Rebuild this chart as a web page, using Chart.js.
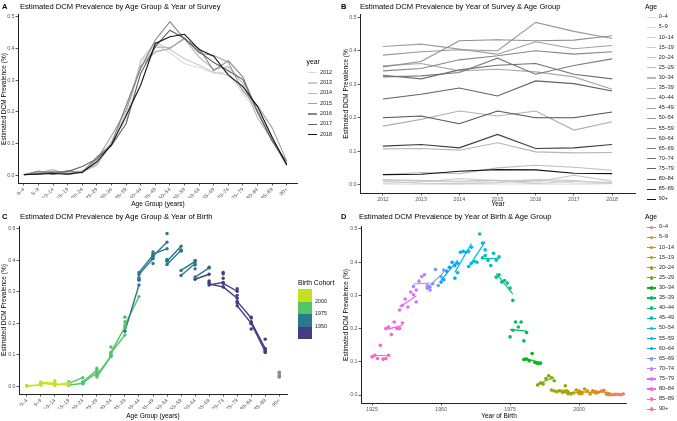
<!DOCTYPE html>
<html>
<head>
<meta charset="utf-8">
<script src="https://cdn.jsdelivr.net/npm/chart.js@4.4.1/dist/chart.umd.min.js"></script>
<style>
body { margin: 0; background: #fff; }
#wrap { position: relative; width: 677px; height: 421px; overflow: hidden; background: #fff;
        font-family: "Liberation Sans", Arial, sans-serif; color: #000; }
canvas { position: absolute; left: 0; top: 0; }
.t { position: absolute; white-space: nowrap; line-height: 1; }
.sw { position: absolute; }
</style>
</head>
<body>
<div id="wrap"></div>
<script>
// age groups and survey years
const ageGroups = ['0–4', '5–9', '10–14', '15–19', '20–24', '25–29', '30–34', '35–39', '40–44', '45–49',
                   '50–54', '55–59', '60–64', '65–69', '70–74', '75–79', '80–84', '85–89', '90+'];
const ageLower = [0, 5, 10, 15, 20, 25, 30, 35, 40, 45, 50, 55, 60, 65, 70, 75, 80, 85, 90];
const surveyYears = [2012, 2013, 2014, 2015, 2016, 2017, 2018];

// estimated prevalence (%) per survey year, one value per age group
const p2012 = [0.002, 0.013, 0.004, 0.010, 0.015, 0.030, 0.107, 0.175, 0.355, 0.413, 0.387, 0.352, 0.340, 0.322, 0.327, 0.256, 0.200, 0.115, 0.030];
const p2013 = [0.001, 0.010, 0.008, 0.004, 0.012, 0.036, 0.108, 0.195, 0.362, 0.420, 0.397, 0.368, 0.347, 0.325, 0.316, 0.270, 0.205, 0.120, 0.031];
const p2014 = [0.001, 0.008, 0.018, 0.003, 0.010, 0.033, 0.103, 0.220, 0.340, 0.405, 0.403, 0.430, 0.373, 0.335, 0.343, 0.289, 0.182, 0.110, 0.040];
const p2015 = [0.002, 0.012, 0.012, 0.006, 0.013, 0.050, 0.125, 0.205, 0.345, 0.390, 0.400, 0.433, 0.385, 0.378, 0.357, 0.265, 0.220, 0.150, 0.045];
const p2016 = [0.002, 0.014, 0.003, 0.015, 0.008, 0.058, 0.098, 0.220, 0.337, 0.427, 0.485, 0.430, 0.400, 0.330, 0.362, 0.310, 0.200, 0.108, 0.044];
const p2017 = [0.001, 0.005, 0.010, 0.012, 0.028, 0.052, 0.095, 0.163, 0.322, 0.406, 0.458, 0.432, 0.390, 0.356, 0.330, 0.302, 0.200, 0.110, 0.034];
const p2018 = [0.003, 0.004, 0.006, 0.004, 0.010, 0.043, 0.096, 0.188, 0.285, 0.416, 0.437, 0.445, 0.397, 0.376, 0.316, 0.280, 0.217, 0.120, 0.033];
const byYear = [p2012, p2013, p2014, p2015, p2016, p2017, p2018];

// tick labels
const yTicks = [0, 0.1, 0.2, 0.3, 0.4, 0.5];
const birthTicks = [1925, 1950, 1975, 2000];
const cohortBreaks = [1950, 1975, 2000];

const FONT = '"Liberation Sans", Arial, sans-serif';
const wrap = document.getElementById('wrap');
const W = 677, H = 421, Y_W = 18, X_H = 15;

function addText(s, x, y, size, opt = {}) {
    const d = document.createElement('div');
    d.className = 't';
    d.textContent = s;
    d.style.fontSize = size + 'px';
    d.style.left = x + 'px';
    d.style.top = y + 'px';
    if (opt.bold) d.style.fontWeight = 'bold';
    if (opt.color) d.style.color = opt.color;
    if (opt.rotate) d.style.transform = 'translate(-50%,-50%) rotate(-90deg)';
    else if (opt.center) d.style.transform = 'translate(-50%,-50%)';
    else d.style.transform = 'translate(0,-50%)';
    wrap.appendChild(d);
}

function addBox(x, y, w, h, color, round) {
    const d = document.createElement('div');
    d.className = 'sw';
    d.style.left = x + 'px';
    d.style.top = y + 'px';
    d.style.width = w + 'px';
    d.style.height = h + 'px';
    d.style.background = color;
    if (round) d.style.borderRadius = '50%';
    wrap.appendChild(d);
}

// grey ramp like scale_colour_grey (t: 0 light, 1 dark)
function greyAt(t) {
    const s = 0.86, e = 0.07, g = 2.2;
    const v = Math.pow(Math.pow(s, g) + (Math.pow(e, g) - Math.pow(s, g)) * t, 1 / g);
    const c = Math.round(v * 255);
    return `rgb(${c},${c},${c})`;
}

// ggplot default hue palette
function hcl(h, c, l) {
    const rad = h * Math.PI / 180;
    const U = c * Math.cos(rad), V = c * Math.sin(rad);
    const Xn = 0.95047, Yn = 1.0, Zn = 1.08883;
    const un = 4 * Xn / (Xn + 15 * Yn + 3 * Zn), vn = 9 * Yn / (Xn + 15 * Yn + 3 * Zn);
    const Y = l > 8 ? Yn * Math.pow((l + 16) / 116, 3) : Yn * l / 903.3;
    const up = U / (13 * l) + un, vp = V / (13 * l) + vn;
    const X = Y * 9 * up / (4 * vp);
    const Z = Y * (12 - 3 * up - 20 * vp) / (4 * vp);
    const lin = [3.2404542 * X - 1.5371385 * Y - 0.4985314 * Z,
                 -0.9692660 * X + 1.8760108 * Y + 0.0415560 * Z,
                 0.0556434 * X - 0.2040259 * Y + 1.0572252 * Z];
    const rgb = lin.map(v => {
        v = Math.min(1, Math.max(0, v));
        const s = v <= 0.0031308 ? 12.92 * v : 1.055 * Math.pow(v, 1 / 2.4) - 0.055;
        return Math.round(s * 255);
    });
    return `rgb(${rgb.join(',')})`;
}
const hueColors = ageGroups.map((_, i) => hcl(15 + 360 * i / ageGroups.length, 100, 65));
const yearGreys = surveyYears.map((_, j) => greyAt(j / (surveyYears.length - 1)));
const ageGreys = ageGroups.map((_, i) => greyAt(i / (ageGroups.length - 1)));

const cohortColors = ['#433d84', '#2a788e', '#52c569', '#c6e021'];
function cohortColor(b) {
    if (b === null) return '#8c8c8c';
    if (b <= cohortBreaks[0]) return cohortColors[0];
    if (b <= cohortBreaks[1]) return cohortColors[1];
    if (b < cohortBreaks[2]) return cohortColors[2];
    return cohortColors[3];
}
const birthYear = (ageIdx, yearIdx) => ageIdx === ageGroups.length - 1 ? null : surveyYears[yearIdx] - (ageLower[ageIdx] + 2);

function axis(extra) {
    return Object.assign({
        type: 'linear',
        grid: { display: true, drawOnChartArea: false, drawTicks: true, tickLength: 2.5, color: '#333', lineWidth: 0.8 },
        border: { display: true, color: '#222', width: 1 },
    }, extra);
}
const tickFont = { size: 5.2, family: FONT };
const tickColor = '#555';

function makeChart(area, xScale, datasets) {
    const cv = document.createElement('canvas');
    cv.width = W; cv.height = H;
    wrap.appendChild(cv);
    return new Chart(cv, {
        type: 'scatter',
        data: { datasets },
        options: {
            responsive: false, animation: false, events: [],
            layout: { padding: { left: area.l - Y_W, top: area.t, right: W - area.r, bottom: H - area.b - X_H } },
            plugins: { legend: { display: false }, tooltip: { enabled: false } },
            scales: {
                x: axis(Object.assign({ afterFit: s => { s.height = X_H; } }, xScale)),
                y: axis({
                    min: area.ymin, max: area.ymax,
                    afterFit: s => { s.width = Y_W; },
                    afterBuildTicks: s => { s.ticks = yTicks.map(v => ({ value: v })); },
                    ticks: { color: tickColor, font: tickFont, padding: 1, callback: v => v.toFixed(1) }
                })
            }
        }
    });
}

const ageAxis = (min, max) => ({
    min, max,
    afterBuildTicks: s => { s.ticks = ageGroups.map((_, i) => ({ value: i })); },
    ticks: { color: tickColor, font: tickFont, padding: 1, autoSkip: false, minRotation: 45, maxRotation: 45,
             callback: v => ageGroups[v] }
});

// ---- A: by age group, one line per survey year
const dsA = surveyYears.map((yr, j) => ({
    data: ageGroups.map((_, i) => ({ x: i, y: byYear[j][i] })),
    showLine: true, borderColor: yearGreys[j], borderWidth: 1.1, pointRadius: 0, order: -j
}));
makeChart({ l: 18, r: 297, t: 14, b: 183, ymin: -0.024, ymax: 0.509 }, ageAxis(-0.4, 18.7), dsA);

// ---- B: by survey year, one line per age group
const dsB = ageGroups.map((_, i) => ({
    data: surveyYears.map((yr, j) => ({ x: yr, y: byYear[j][i] })),
    showLine: true, borderColor: ageGreys[i], borderWidth: 1.1, pointRadius: 0, order: -i
}));
makeChart({ l: 360, r: 635, t: 14, b: 193, ymin: -0.025, ymax: 0.51 }, {
    min: 2011.4, max: 2018.6,
    afterBuildTicks: s => { s.ticks = surveyYears.map(v => ({ value: v })); },
    ticks: { color: tickColor, font: tickFont, padding: 1, callback: v => String(v) }
}, dsB);

// ---- C: by age group, coloured by birth cohort
const dsC = [];
const ptsC = [], colC = [];
ageGroups.forEach((_, i) => surveyYears.forEach((yr, j) => {
    ptsC.push({ x: i, y: byYear[j][i] });
    colC.push(cohortColor(birthYear(i, j)));
}));
dsC.push({ data: ptsC, pointRadius: 1.7, pointBackgroundColor: colC, pointBorderColor: colC, pointBorderWidth: 0, order: -100 });
for (let i = 0; i < ageGroups.length - 2; i++) {
    for (let j = 0; j + 5 < surveyYears.length; j++) {
        const col = cohortColor(birthYear(i, j));
        dsC.push({
            data: [{ x: i, y: byYear[j][i] }, { x: i + 1, y: byYear[j + 5][i + 1] }],
            showLine: true, borderColor: col, borderWidth: 1.4, pointRadius: 0
        });
    }
}
makeChart({ l: 19, r: 287, t: 226, b: 394, ymin: -0.024, ymax: 0.509 }, ageAxis(-0.55, 18.55), dsC);

// ---- D: by year of birth, coloured by age group, with linear fit per group
const dsD = [];
for (let i = 0; i < ageGroups.length - 1; i++) {
    const pts = surveyYears.map((yr, j) => ({ x: birthYear(i, j), y: byYear[j][i] }));
    const n = pts.length;
    const mx = pts.reduce((a, p) => a + p.x, 0) / n, my = pts.reduce((a, p) => a + p.y, 0) / n;
    const sxy = pts.reduce((a, p) => a + (p.x - mx) * (p.y - my), 0);
    const sxx = pts.reduce((a, p) => a + (p.x - mx) * (p.x - mx), 0);
    const slope = sxy / sxx;
    const x0 = pts[0].x, x1 = pts[n - 1].x;
    dsD.push({ data: pts, pointRadius: 1.8, backgroundColor: hueColors[i], borderColor: hueColors[i], pointBorderWidth: 0, order: -50 - i });
    dsD.push({
        data: [{ x: x0, y: my + slope * (x0 - mx) }, { x: x1, y: my + slope * (x1 - mx) }],
        showLine: true, borderColor: hueColors[i], borderWidth: 1.2, pointRadius: 0, order: -i
    });
}
makeChart({ l: 361, r: 626, t: 226, b: 403, ymin: -0.024, ymax: 0.509 }, {
    min: 1921, max: 2017,
    afterBuildTicks: s => { s.ticks = birthTicks.map(v => ({ value: v })); },
    ticks: { color: tickColor, font: tickFont, padding: 1, callback: v => String(v) }
}, dsD);

// ---- titles and axis titles
const TS = 7.6, AS = 6.5;
addText('A', 2, 7, 7.5, { bold: true });
addText('Estimated DCM Prevalence by Age Group & Year of Survey', 20, 7, TS);
addText('B', 341, 7, 7.5, { bold: true });
addText('Estimated DCM Prevalence by Year of Survey & Age Group', 360, 7, TS);
addText('C', 2, 217, 7.5, { bold: true });
addText('Estimated DCM Prevalence by Age Group & Year of Birth', 20, 217, TS);
addText('D', 341, 217, 7.5, { bold: true });
addText('Estimated DCM Prevalence by Year of Birth & Age Group', 359, 217, TS);

addText('Age Group (years)', 158, 204, AS, { center: true });
addText('Year', 498, 204, AS, { center: true });
addText('Age Group (years)', 153, 415.5, AS, { center: true });
addText('Year of Birth', 499, 415.5, AS, { center: true });
addText('Estimated DCM Prevalence (%)', 4, 98.5, AS, { rotate: true });
addText('Estimated DCM Prevalence (%', 346, 94, AS, { rotate: true });
addText('Estimated DCM Prevalence (%)', 4, 310, AS, { rotate: true });
addText('Estimated DCM Prevalence (%)', 345.5, 314.5, AS, { rotate: true });

// ---- legends
const LS = 5.4, LT = 6.8;
addText('year', 306.5, 62.3, LT);
surveyYears.forEach((yr, j) => {
    const y = 72.7 + j * 10.33;
    addBox(307.5, y - 0.55, 9, 1.1, yearGreys[j]);
    addText(String(yr), 320, y, LS, { color: '#222' });
});

addText('Age', 645, 6.5, LT);
ageGroups.forEach((a, i) => {
    const y = 17.3 + i * 10.11;
    addBox(647, y - 0.55, 8.5, 1.1, ageGreys[i]);
    addText(a, 658.7, y, LS, { color: '#222' });
});

addText('Birth Cohort', 298, 283.3, LT);
cohortColors.slice().reverse().forEach((c, k) => addBox(298, 289 + k * 12.5, 14, 12.6, c));
cohortBreaks.slice().reverse().forEach((b, k) => addText(String(b), 315, 301.5 + k * 12.5, LS, { color: '#222' }));

addText('Age', 645, 216.5, LT);
ageGroups.forEach((a, i) => {
    const y = 227.3 + i * 10.11;
    addBox(647, y - 0.6, 9, 1.2, hueColors[i]);
    addBox(649.7, y - 1.8, 3.6, 3.6, hueColors[i], true);
    addText(a, 659, y, LS, { color: '#222' });
});
</script>
</body>
</html>
